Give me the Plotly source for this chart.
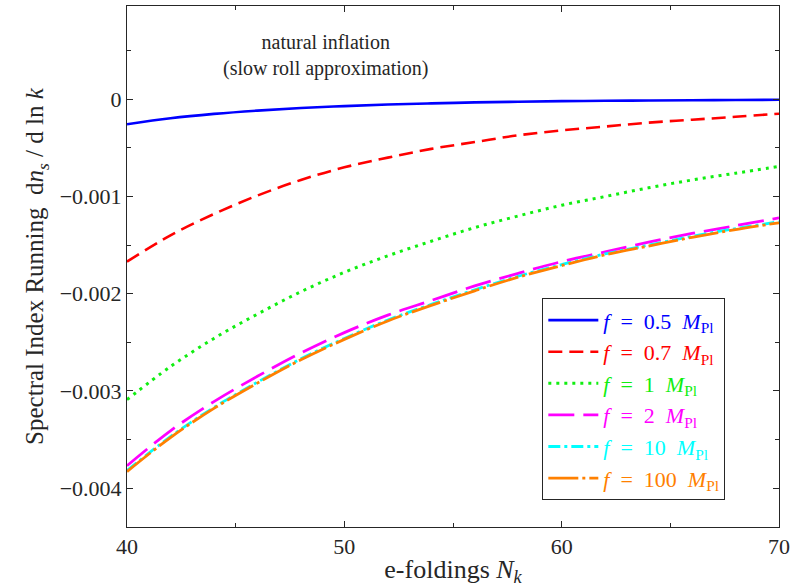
import plotly.graph_objects as go

# e-folding numbers at which the running was sampled
N_k = [40, 42, 44, 46, 48, 50, 52, 54, 56, 58, 60, 62, 64, 66, 68, 70]

# spectral index running dn_s/dlnk for each decay constant f (in units of M_Pl)
run_f05 = [-0.000257, -0.000195, -0.000150, -0.000116, -0.000090, -0.000070, -0.000054,
           -0.000042, -0.000032, -0.000025, -0.000019, -0.000015, -0.000012, -0.000009,
           -0.000007, -0.000005]
run_f07 = [-0.00167, -0.00140, -0.00118, -0.00099, -0.00083, -0.00070, -0.00060, -0.00051,
           -0.00044, -0.00037, -0.00032, -0.00028, -0.00024, -0.00021, -0.00018, -0.000148]
run_f1 = [-0.00309, -0.00275, -0.00246, -0.00221, -0.00198, -0.00178, -0.00161, -0.00146,
          -0.00132, -0.00120, -0.00109, -0.00100, -0.00091, -0.00083, -0.00076, -0.00069]
run_f2 = [-0.00377, -0.00341, -0.00311, -0.00285, -0.00261, -0.00240, -0.00222, -0.00207,
          -0.00192, -0.00179, -0.00167, -0.00157, -0.00147, -0.00138, -0.00130, -0.00122]
run_f10 = [-0.00382, -0.00347, -0.00317, -0.00291, -0.00267, -0.00246, -0.00227, -0.00211,
           -0.00196, -0.00182, -0.00170, -0.00159, -0.00150, -0.00141, -0.00133, -0.00126]
run_f100 = [-0.00383, -0.00348, -0.00318, -0.00292, -0.00268, -0.00247, -0.00228, -0.00212,
            -0.00197, -0.00183, -0.00171, -0.00160, -0.00151, -0.00142, -0.00134, -0.00127]

f_labels = ["0.5", "0.7", "1", "2", "10", "100"]

x_tickvals = [40, 50, 60, 70]
x_ticktext = ["40", "50", "60", "70"]
y_tickvals = [0, -0.001, -0.002, -0.003, -0.004]
y_ticktext = ["0", "\u22120.001", "\u22120.002", "\u22120.003", "\u22120.004"]

series = [run_f05, run_f07, run_f1, run_f2, run_f10, run_f100]
colors = ["#0000ff", "#ff0000", "#11ee11", "#ff00ff", "#00ffff", "#ff8000"]
dashes = ["solid", "14px,7px", "3px,5px", "26px,9px", "12px,4px,3px,4px", "30px,4px,3px,4px"]
widths = [2.6, 2.6, 3, 2.8, 2.8, 2.8]

FONT = "Liberation Serif"
TEXT = "#262626"
NB = "\u00a0"  # non-breaking space, keeps math-style spacing in legend labels

fig = go.Figure()
for vals, lab, col, dash, w in zip(series, f_labels, colors, dashes, widths):
    name = (f'<span style="color:{col}"><i>f</i>{NB}{NB}={NB}{NB}{lab}{NB}{NB}'
            f'<i>M</i><sub>Pl</sub></span>')
    fig.add_trace(go.Scatter(
        x=N_k, y=vals, mode="lines", name=name,
        line=dict(color=col, width=w, dash=dash, shape="spline"),
    ))

axis_common = dict(
    showline=True, linecolor=TEXT, linewidth=1, mirror="allticks",
    ticks="inside", ticklen=6, tickcolor=TEXT, showgrid=False, zeroline=False,
    tickfont=dict(family=FONT, size=22, color=TEXT),
)

fig.update_xaxes(
    range=[40, 70], tickvals=x_tickvals, ticktext=x_ticktext,
    minor=dict(ticks="inside", ticklen=4, dtick=5, tick0=40, tickcolor=TEXT),
    title=dict(text="e-foldings <i>N</i><sub><i>k</i></sub>",
               font=dict(family=FONT, size=26, color=TEXT), standoff=4),
    **axis_common,
)
fig.update_yaxes(
    range=[-0.0044, 0.00096], tickvals=y_tickvals, ticktext=y_ticktext,
    minor=dict(ticks="inside", ticklen=4, dtick=0.0005, tick0=0, tickcolor=TEXT),
    title=dict(text="Spectral Index Running  d<i>n</i><sub><i>s</i></sub> / d ln <i>k</i>",
               font=dict(family=FONT, size=25, color=TEXT), standoff=8),
    **axis_common,
)

fig.add_annotation(
    x=0.305, y=0.905, xref="paper", yref="paper", showarrow=False,
    xanchor="center", yanchor="middle",
    text="natural inflation<br>(slow roll approximation)",
    font=dict(family=FONT, size=20, color=TEXT), align="center",
)

fig.update_layout(
    width=795, height=587,
    margin=dict(l=127, r=12, t=5, b=60),
    paper_bgcolor="white", plot_bgcolor="white",
    showlegend=True,
    legend=dict(
        x=0.637, y=0.439, xanchor="left", yanchor="top",
        bordercolor=TEXT, borderwidth=1, bgcolor="white",
        font=dict(family=FONT, size=22, color=TEXT),
        itemwidth=50, tracegroupgap=0,
    ),
)

fig.write_html("out.html")
